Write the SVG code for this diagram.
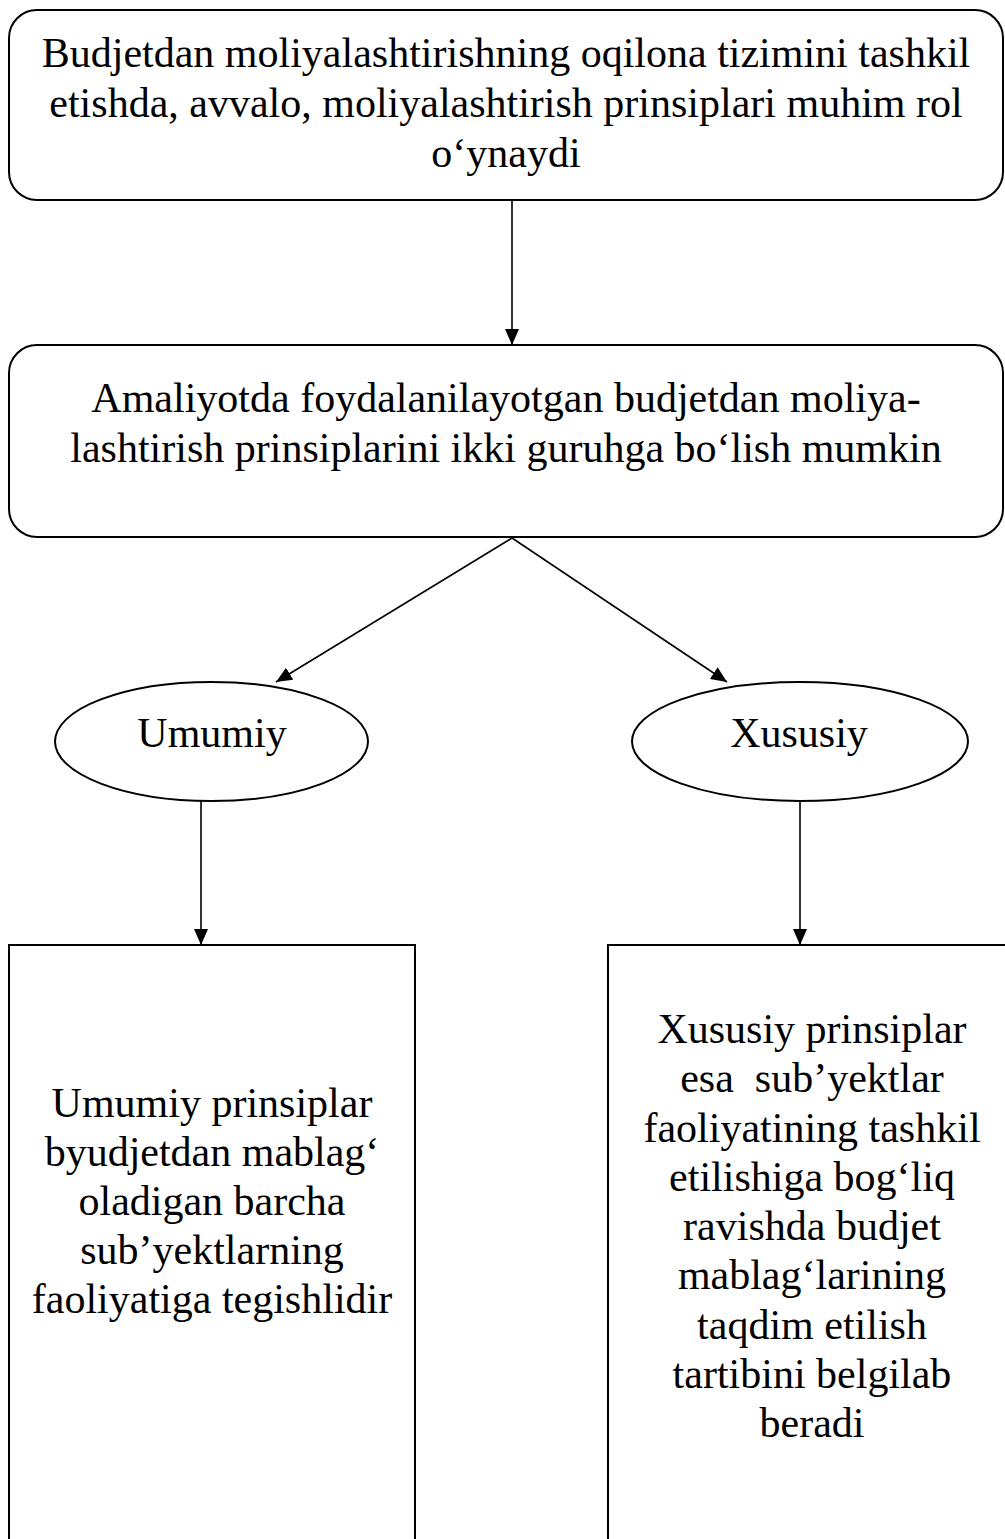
<svg xmlns="http://www.w3.org/2000/svg" width="1005" height="1539" viewBox="0 0 1005 1539">
<style>
.box{fill:#fff;stroke:#000;stroke-width:2}
.t{font-family:"Liberation Serif","Times New Roman",serif;font-size:42px;fill:#000;text-anchor:middle}
.c{stroke:#000;stroke-width:1.6;fill:none}
</style>
<defs>
<marker id="ah" markerUnits="userSpaceOnUse" markerWidth="16" markerHeight="14" refX="16" refY="7" orient="auto">
<path d="M0,0 L16,7 L0,14 Z" fill="#000"/>
</marker>
</defs>
<rect width="1005" height="1539" fill="#fff"/>
<g id="connectors">
<line class="c" x1="512" y1="200" x2="512" y2="345" marker-end="url(#ah)"/>
<line class="c" x1="512" y1="538" x2="276" y2="682" marker-end="url(#ah)"/>
<line class="c" x1="512" y1="538" x2="727" y2="682" marker-end="url(#ah)"/>
<line class="c" x1="201" y1="801" x2="201" y2="945" marker-end="url(#ah)"/>
<line class="c" x1="800" y1="801" x2="800" y2="945" marker-end="url(#ah)"/>
</g>
<g id="node-top">
<rect class="box" x="9" y="10" width="994" height="190" rx="28" ry="28"/>
<text class="t" x="506" y="67">Budjetdan moliyalashtirishning oqilona tizimini tashkil</text>
<text class="t" x="506" y="117">etishda, avvalo, moliyalashtirish prinsiplari muhim rol</text>
<text class="t" x="506" y="167">o‘ynaydi</text>
</g>
<g id="node-groups">
<rect class="box" x="9" y="345" width="994" height="192" rx="28" ry="28"/>
<text class="t" x="506" y="412">Amaliyotda foydalanilayotgan budjetdan moliya-</text>
<text class="t" x="506" y="462">lashtirish prinsiplarini ikki guruhga bo‘lish mumkin</text>
</g>
<g id="node-umumiy">
<ellipse class="box" cx="211.5" cy="741.5" rx="156.5" ry="59.5"/>
<text class="t" x="212" y="747">Umumiy</text>
</g>
<g id="node-xususiy">
<ellipse class="box" cx="800" cy="741.5" rx="168" ry="59.5"/>
<text class="t" x="799" y="747">Xususiy</text>
</g>
<g id="node-umumiy-desc">
<rect class="box" x="9" y="945" width="406" height="620"/>
<text class="t" x="212" y="1117">Umumiy prinsiplar</text>
<text class="t" x="212" y="1166">byudjetdan mablag‘</text>
<text class="t" x="212" y="1215">oladigan barcha</text>
<text class="t" x="212" y="1264">sub’yektlarning</text>
<text class="t" x="212" y="1313">faoliyatiga tegishlidir</text>
</g>
<g id="node-xususiy-desc">
<rect class="box" x="608" y="945" width="420" height="620"/>
<text class="t" x="812" y="1043">Xususiy prinsiplar</text>
<text class="t" x="812" y="1092" xml:space="preserve">esa  sub’yektlar</text>
<text class="t" x="812" y="1142">faoliyatining tashkil</text>
<text class="t" x="812" y="1191">etilishiga bog‘liq</text>
<text class="t" x="812" y="1240">ravishda budjet</text>
<text class="t" x="812" y="1289">mablag‘larining</text>
<text class="t" x="812" y="1339">taqdim etilish</text>
<text class="t" x="812" y="1388">tartibini belgilab</text>
<text class="t" x="812" y="1437">beradi</text>
</g>
</svg>
